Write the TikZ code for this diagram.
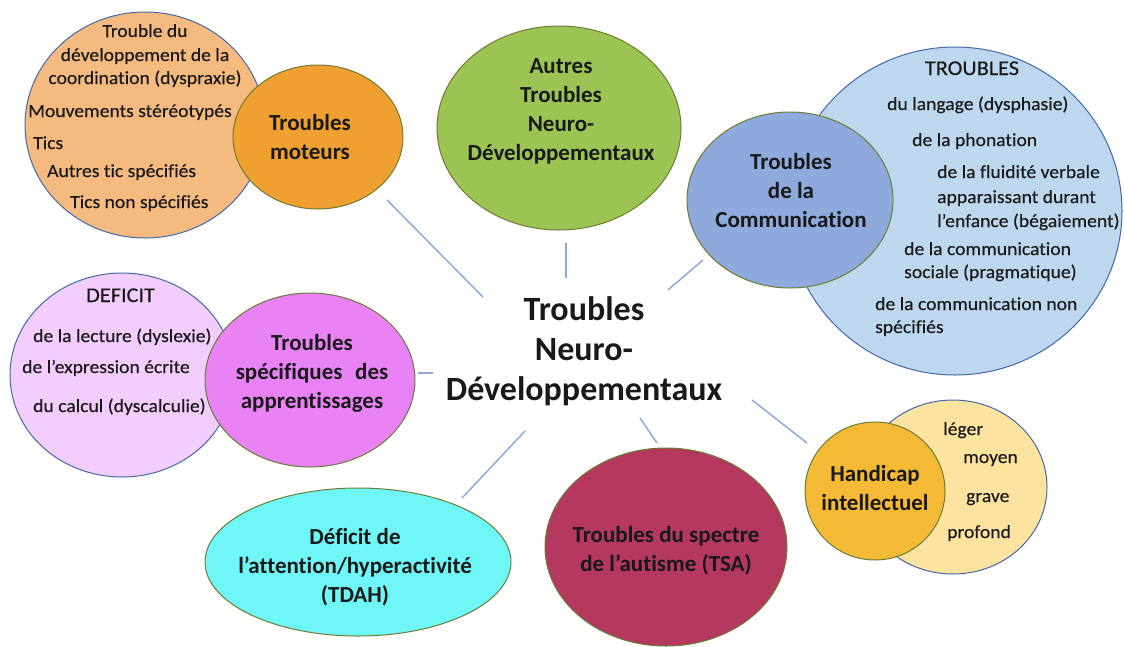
\documentclass[tikz,border=0pt]{standalone}
\usepackage{fontspec}
\setmainfont{Carlito}[Ligatures=NoCommon]
\newfontfamily\detfont{Carlito}[FakeStretch=1.06,FakeBold=0.3,Ligatures=NoCommon]
\usetikzlibrary{shapes.geometric}
\definecolor{softedge}{RGB}{68,104,168}
\definecolor{mainedge}{RGB}{108,124,52}
\definecolor{linkc}{RGB}{143,170,220}
\definecolor{txt}{RGB}{25,25,25}
\definecolor{lorange}{RGB}{245,186,128}
\definecolor{dorange}{RGB}{240,160,48}
\definecolor{green1}{RGB}{155,196,85}
\definecolor{lblue}{RGB}{189,215,238}
\definecolor{dblue}{RGB}{142,169,219}
\definecolor{lpink}{RGB}{243,205,252}
\definecolor{magen}{RGB}{232,130,245}
\definecolor{cyan1}{RGB}{111,247,248}
\definecolor{crimson1}{RGB}{181,57,95}
\definecolor{lyellow}{RGB}{252,228,160}
\definecolor{dyellow}{RGB}{245,186,53}
\begin{document}
\begin{tikzpicture}[x=1pt,y=-1pt,
  blob/.style={ellipse, inner sep=0pt, outer sep=0pt, line width=1pt},
  soft/.style={blob, draw=softedge},
  main/.style={blob, draw=mainedge},
  lab/.style={align=center, font=\bfseries\fontsize{23}{29}\selectfont, text=txt, inner sep=0pt},
  hublab/.style={align=center, font=\bfseries\fontsize{34}{40}\selectfont, text=txt, inner sep=0pt},
  det/.style={font=\detfont\fontsize{18.5}{23}\selectfont, text=txt, inner sep=0pt, anchor=base west},
  dethead/.style={det, font=\detfont\fontsize{21}{25}\selectfont},
  detc/.style={det, anchor=base},
  link/.style={draw=linkc, line width=1.5pt}]
\useasboundingbox (0,0) rectangle (1124,646);

% --- Troubles moteurs ---
\node[soft, fill=lorange, minimum width=240, minimum height=226] (lo) at (145,125) {};
\node[detc] (lo1) at (145,37) {Trouble du};
\node[detc] (lo2) at (145,61) {développement de la};
\node[detc] (lo3) at (145,84) {coordination (dyspraxie)};
\node[det] (lo4) at (28,117) {Mouvements stéréotypés};
\node[det] (lo5) at (33,149) {Tics};
\node[det] (lo6) at (47,177) {Autres tic spécifiés};
\node[det] (lo7) at (70,208) {Tics non spécifiés};
\node[main, fill=dorange, minimum width=170, minimum height=144] (mot) at (318,137) {};
\node[lab] (motl) at (310,137) {Troubles\\moteurs};

% --- Autres TND ---
\node[main, fill=green1, minimum width=244, minimum height=204] (grn) at (559,128) {};
\node[lab] (grnl) at (561,111) {Autres\\Troubles\\Neuro-\\Développementaux};

% --- Communication ---
\node[soft, fill=lblue, minimum width=334, minimum height=328] (lb) at (955,211) {};
\node[dethead, anchor=base] (lb0) at (972,75) {TROUBLES};
\node[det] (lb1) at (887,110) {du langage (dysphasie)};
\node[det] (lb2) at (912,146) {de la phonation};
\node[det] (lb3) at (937,178) {de la fluidité verbale};
\node[det] (lb4) at (937,203) {apparaissant durant};
\node[det] (lb5) at (937,227) {l’enfance (bégaiement)};
\node[det] (lb6) at (904,255) {de la communication};
\node[det] (lb7) at (904,278) {sociale (pragmatique)};
\node[det] (lb8) at (875,310) {de la communication non};
\node[det] (lb9) at (875,333) {spécifiés};
\node[main, fill=dblue, minimum width=206, minimum height=176] (com) at (790,200) {};
\node[lab] (coml) at (791,191) {Troubles\\de la\\Communication};

% --- Apprentissages ---
\node[soft, fill=lpink, minimum width=224, minimum height=204] (lp) at (122,375) {};
\node[dethead] (lp0) at (86,302) {DEFICIT};
\node[det] (lp1) at (33,342) {de la lecture (dyslexie)};
\node[det] (lp2) at (22,373) {de l’expression écrite};
\node[det] (lp3) at (33,412) {du calcul (dyscalculie)};
\node[main, fill=magen, minimum width=210, minimum height=174] (mag) at (310,380) {};
\node[lab] (magl) at (312,373) {Troubles\\spécifiques\hspace{0.55em}des\\apprentissages};

% --- TDAH ---
\node[main, fill=cyan1, minimum width=306, minimum height=148] (tdah) at (358,562) {};
\node[lab] (tdahl) at (355,567) {Déficit de\\l’attention/hyperactivité\\(TDAH)};

% --- TSA ---
\node[main, fill=crimson1, minimum width=242, minimum height=198] (tsa) at (666,547) {};
\node[lab] (tsal) at (666,551) {Troubles du spectre\\de l’autisme (TSA)};

% --- Handicap ---
\node[soft, fill=lyellow, minimum width=188, minimum height=174] (ly) at (953,487) {};
\node[det] (ly1) at (943,435) {léger};
\node[det] (ly2) at (963,463) {moyen};
\node[det] (ly3) at (966,502) {grave};
\node[det] (ly4) at (947,538) {profond};
\node[main, fill=dyellow, minimum width=140, minimum height=138] (hand) at (875,491) {};
\node[lab] (handl) at (875,488) {Handicap\\intellectuel};

% --- centre ---
\node[hublab] (hub) at (584,351) {Troubles\\Neuro-\\Développementaux};

% --- connectors ---
\coordinate (a1) at (483,297); \coordinate (b1) at (387,200);
\coordinate (a2) at (566,278); \coordinate (b2) at (566,243);
\coordinate (a3) at (668,290); \coordinate (b3) at (703,260);
\coordinate (a4) at (433,373); \coordinate (b4) at (418,373);
\coordinate (a5) at (525,431); \coordinate (b5) at (462,498);
\coordinate (a6) at (640,418); \coordinate (b6) at (657,443);
\coordinate (a7) at (752,400); \coordinate (b7) at (807,443);
\foreach \i in {1,...,7} {\draw[link] (a\i) -- (b\i);}
\end{tikzpicture}
\end{document}
